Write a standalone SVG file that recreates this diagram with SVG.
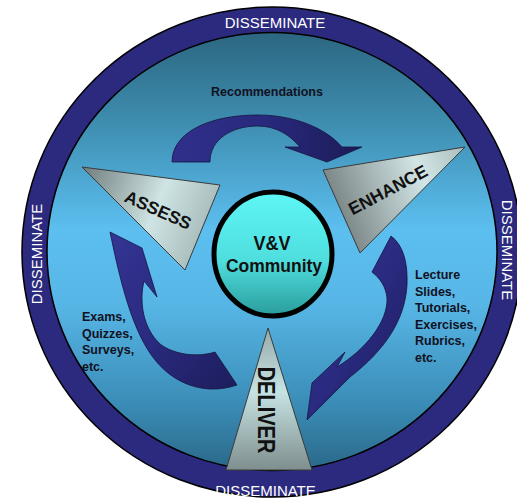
<svg xmlns="http://www.w3.org/2000/svg" width="517" height="501" viewBox="0 0 517 501">
<defs>
<linearGradient id="bg" x1="0" y1="0" x2="0" y2="1">
<stop offset="0" stop-color="#2c6681"/>
<stop offset="0.2" stop-color="#3d8cae"/>
<stop offset="0.45" stop-color="#5cbff0"/>
<stop offset="0.62" stop-color="#57b6e6"/>
<stop offset="0.85" stop-color="#3a8cb6"/>
<stop offset="1" stop-color="#2a6888"/>
</linearGradient>
<linearGradient id="arr" x1="0" y1="0" x2="1" y2="1">
<stop offset="0" stop-color="#343494"/>
<stop offset="0.5" stop-color="#2a2a80"/>
<stop offset="1" stop-color="#1d1d5c"/>
</linearGradient>
<linearGradient id="arrTop" x1="0" y1="0" x2="1" y2="0">
<stop offset="0" stop-color="#30308c"/>
<stop offset="0.5" stop-color="#28287c"/>
<stop offset="1" stop-color="#1c1c58"/>
</linearGradient>
<linearGradient id="triA" x1="0" y1="0" x2="1" y2="0.3">
<stop offset="0" stop-color="#6f7c7c"/>
<stop offset="0.6" stop-color="#cfe4e4"/>
<stop offset="1" stop-color="#a9bcbc"/>
</linearGradient>
<linearGradient id="triE" x1="0" y1="0.3" x2="1" y2="0">
<stop offset="0" stop-color="#7a8585"/>
<stop offset="0.65" stop-color="#d3e6e6"/>
<stop offset="1" stop-color="#aabdbd"/>
</linearGradient>
<linearGradient id="triD" x1="0" y1="0" x2="0" y2="1">
<stop offset="0" stop-color="#98aaaa"/>
<stop offset="0.45" stop-color="#c6e3e3"/>
<stop offset="1" stop-color="#7f8e8e"/>
</linearGradient>
<linearGradient id="core" x1="0" y1="0" x2="0" y2="1">
<stop offset="0" stop-color="#5ef6f6"/>
<stop offset="0.55" stop-color="#4fdede"/>
<stop offset="1" stop-color="#2a9c9c"/>
</linearGradient>
<style>
.ring{font-family:"Liberation Sans",Arial,sans-serif;font-size:15px;fill:#ffffff;text-anchor:middle}
.lbl{font-family:"Liberation Sans",Arial,sans-serif;font-size:12.5px;font-weight:bold;fill:#111122}
.tri{stroke:#3a3a3a;stroke-width:1}
.tt{font-family:"Liberation Sans",Arial,sans-serif;font-weight:bold;fill:#111111;text-anchor:middle}
.arrow{stroke:#15153f;stroke-width:0.8}
</style>
</defs>

<g id="disseminate">
<ellipse cx="272" cy="252" rx="250" ry="245" fill="#2b2a7e" stroke="#000" stroke-width="1.5"/>
<ellipse cx="272" cy="251.5" rx="225" ry="219" fill="url(#bg)" stroke="#000" stroke-width="1.5"/>
<text class="ring" x="275" y="28">DISSEMINATE</text>
<text class="ring" x="265.5" y="496">DISSEMINATE</text>
<text class="ring" transform="translate(42,254) rotate(-90)">DISSEMINATE</text>
<text class="ring" transform="translate(502,250) rotate(90)">DISSEMINATE</text>
</g>

<g id="connectors">
<path class="arrow" fill="url(#arrTop)" d="M172,162 C172,133 208,115 258,115 C292,115 325,127 342,147 L362,147 L327,162 L285,147 L300,147 C290,135 276,126 258,126 C232,126 210,139 210,162 Z"/>
<path class="arrow" fill="url(#arr)" d="M110,232 L142,248 L157,297 L144,281 C139,302 143,328 160,344 C176,356 200,357 215,352 L237,385 C205,396 172,384 152,356 C132,328 121,285 110,232 Z"/>
<path class="arrow" fill="url(#arr)" d="M391,236 C403,245 408,262 407,285 C405,320 385,350 350,377 L307,420 L312,383 L345,352 L337,367 C365,350 388,322 387,298 C386,287 380,278 372,272 Z"/>
</g>

<g id="labels">
<text class="lbl" x="267" y="96" text-anchor="middle">Recommendations</text>
<text class="lbl" x="82" y="321">Exams,</text>
<text class="lbl" x="82" y="337.5">Quizzes,</text>
<text class="lbl" x="82" y="354">Surveys,</text>
<text class="lbl" x="82" y="370.5">etc.</text>
<text class="lbl" x="415" y="279">Lecture</text>
<text class="lbl" x="415" y="295.5">Slides,</text>
<text class="lbl" x="415" y="312">Tutorials,</text>
<text class="lbl" x="415" y="328.5">Exercises,</text>
<text class="lbl" x="415" y="345">Rubrics,</text>
<text class="lbl" x="415" y="361.5">etc.</text>
</g>

<g id="assess">
<polygon class="tri" fill="url(#triA)" points="82,167 220,185 185,270"/>
<text class="tt" font-size="17.5" transform="translate(158,210) rotate(24)" y="6">ASSESS</text>
</g>

<g id="enhance">
<polygon class="tri" fill="url(#triE)" points="323,170 465,147 360,253"/>
<text class="tt" font-size="17.5" transform="translate(388,190) rotate(-28)" y="6">ENHANCE</text>
</g>

<g id="deliver">
<polygon class="tri" fill="url(#triD)" points="268,328 226,470 312,470"/>
<text class="tt" font-size="20" transform="translate(258,410) rotate(90) scale(1,1.15)">DELIVER</text>
</g>

<g id="community">
<ellipse cx="273" cy="254" rx="59" ry="62" fill="url(#core)" stroke="#000" stroke-width="5"/>
<text class="tt" font-size="18" transform="translate(272,250) scale(1,1.1)">V&amp;V</text>
<text class="tt" font-size="17.5" transform="translate(274,272) scale(1,1.08)">Community</text>
</g>
</svg>
